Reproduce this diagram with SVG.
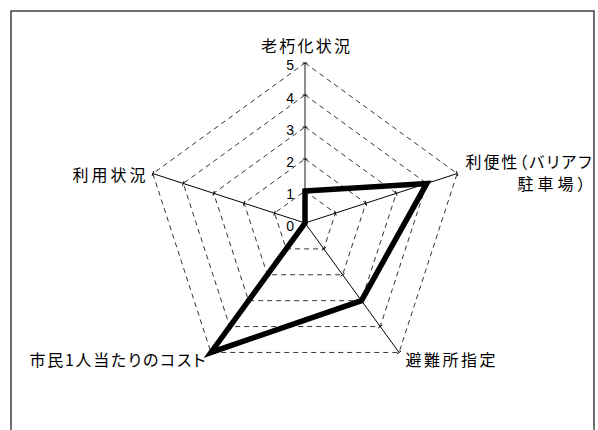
<svg xmlns="http://www.w3.org/2000/svg" width="598" height="430" viewBox="0 0 598 430">
<style>
.lbl{font-family:"Noto Sans CJK JP","Noto Sans CJK SC",sans-serif;font-size:16px;fill:#000;font-feature-settings:"palt"}
.num{font-family:"Liberation Sans","Noto Sans",sans-serif;font-size:14px;fill:#000;text-anchor:end}
.grid{fill:none;stroke:#000;stroke-width:0.8;stroke-dasharray:5,4}
.axis{stroke:#000;stroke-width:0.9;fill:none}
.data{fill:none;stroke:#000;stroke-width:5.5;stroke-linejoin:miter}
</style>
<defs>
<clipPath id="frameClip"><rect x="11" y="11" width="583" height="430"/></clipPath>
<g id="axisTpl">
<line x1="0" y1="0" x2="0" y2="-160"/>
<line x1="-2.5" y1="-32" x2="2.5" y2="-32"/>
<line x1="-2.5" y1="-64" x2="2.5" y2="-64"/>
<line x1="-2.5" y1="-96" x2="2.5" y2="-96"/>
<line x1="-2.5" y1="-128" x2="2.5" y2="-128"/>
<line x1="-2.5" y1="-160" x2="2.5" y2="-160"/>
</g>
</defs>
<rect x="0" y="0" width="598" height="430" fill="#fff"/>
<rect id="frame" x="11" y="11" width="583" height="440" fill="#fff" stroke="#222" stroke-width="1.3"/>
<g id="grid">
<polygon class="grid" points="305,191 335.43,213.11 323.81,248.89 286.19,248.89 274.57,213.11"/>
<polygon class="grid" points="305,159 365.87,203.22 342.62,274.78 267.38,274.78 244.13,203.22"/>
<polygon class="grid" points="305,127 396.30,193.33 361.43,300.67 248.57,300.67 213.70,193.33"/>
<polygon class="grid" points="305,95 426.74,183.45 380.24,326.55 229.76,326.55 183.26,183.45"/>
<polygon class="grid" points="305,63 457.17,173.56 399.05,352.44 210.95,352.44 152.83,173.56"/>
</g>
<g id="axes" class="axis">
<use href="#axisTpl" transform="translate(305,223)"/>
<use href="#axisTpl" transform="translate(305,223) rotate(72)"/>
<use href="#axisTpl" transform="translate(305,223) rotate(144)"/>
<use href="#axisTpl" transform="translate(305,223) rotate(216)"/>
<use href="#axisTpl" transform="translate(305,223) rotate(288)"/>
</g>
<g id="scale">
<text class="num" x="294" y="231">0</text>
<text class="num" x="294" y="199">1</text>
<text class="num" x="294" y="167">2</text>
<text class="num" x="294" y="135">3</text>
<text class="num" x="294" y="103">4</text>
<text class="num" x="294" y="70">5</text>
</g>
<g id="connectors">
<polygon id="series" class="data" points="305,191 426.74,183.45 361.43,300.67 210.95,352.44 305,223"/>
</g>
<g id="node-top"><text class="lbl" x="261" y="52" textLength="89" lengthAdjust="spacing">老朽化状況</text></g>
<g id="node-right" clip-path="url(#frameClip)">
<text class="lbl" x="465.5" y="168" textLength="126" lengthAdjust="spacing">利便性（バリアフ</text>
<text class="lbl" x="517.5" y="190" textLength="68" lengthAdjust="spacing">駐車場）</text>
</g>
<g id="node-bottomright"><text class="lbl" x="405.5" y="366" textLength="90" lengthAdjust="spacing">避難所指定</text></g>
<g id="node-bottomleft"><text class="lbl" x="29.5" y="366" textLength="176" lengthAdjust="spacing">市民1人当たりのコスト</text></g>
<g id="node-left"><text class="lbl" x="72.5" y="181" textLength="73" lengthAdjust="spacing">利用状況</text></g>
</svg>
